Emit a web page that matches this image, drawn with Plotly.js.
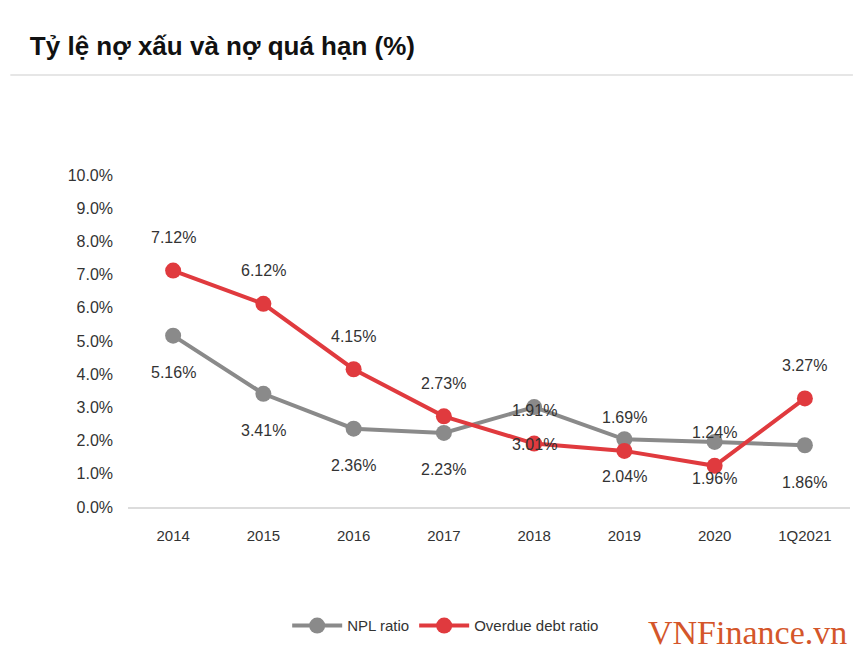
<!DOCTYPE html>
<html><head><meta charset="utf-8">
<script src="https://cdn.plot.ly/plotly-3.0.1.min.js"></script>
<style>html,body{margin:0;padding:0;background:#fff}#c{width:853px;height:650px}</style>
</head><body><div id="c"></div>
<script>
const categories = ["2014","2015","2016","2017","2018","2019","2020","1Q2021"];
const nplRatio = [5.16, 3.41, 2.36, 2.23, 3.01, 2.04, 1.96, 1.86];
const overdueRatio = [7.12, 6.12, 4.15, 2.73, 1.91, 1.69, 1.24, 3.27];
const yTicks = [0,1,2,3,4,5,6,7,8,9,10];
const yTickLabels = yTicks.map(v => v.toFixed(1) + "%");

const FONT = "'Liberation Sans', Arial, sans-serif";
const fmt = v => v.toFixed(2) + "%";

const traces = [
  {x: categories, y: nplRatio, name: "NPL ratio", type: "scatter", mode: "lines+markers",
   line: {color: "#8a8a8a", width: 4}, marker: {color: "#8a8a8a", size: 16},
   cliponaxis: false, hoverinfo: "skip"},
  {x: categories, y: overdueRatio, name: "Overdue debt ratio", type: "scatter", mode: "lines+markers",
   line: {color: "#e03a3e", width: 4}, marker: {color: "#e03a3e", size: 16},
   cliponaxis: false, hoverinfo: "skip"}
];

const labelFont = {family: FONT, size: 16, color: "#333"};
const annotations = [];
categories.forEach((c, i) => {
  // category axis position = index of the category
  annotations.push({x: i, y: overdueRatio[i], xref: "x", yref: "y", text: fmt(overdueRatio[i]),
    showarrow: false, yshift: 33, font: labelFont});
  annotations.push({x: i, y: nplRatio[i], xref: "x", yref: "y", text: fmt(nplRatio[i]),
    showarrow: false, yshift: -37, font: labelFont});
});
annotations.push({text: "VNFinance.vn", xref: "paper", yref: "paper", x: 0.999, xanchor: "right",
  y: -0.377, yanchor: "middle", showarrow: false,
  font: {family: "'Liberation Serif', 'DejaVu Serif', serif", size: 34, color: "#d4562a"}});

const layout = {
  width: 853, height: 650,
  margin: {l: 128, r: 3, t: 175, b: 143},
  paper_bgcolor: "#fff", plot_bgcolor: "#fff",
  title: {text: "<b>Tỷ lệ nợ xấu và nợ quá hạn (%)</b>", x: 0.035, xanchor: "left", y: 0.93, yanchor: "middle",
          font: {family: FONT, size: 26, color: "#111"}},
  xaxis: {type: "category", range: [-0.5, 7.5], showgrid: false, zeroline: false, showline: true,
          linecolor: "#dcdcdc", linewidth: 2, ticks: "", ticklabelstandoff: 14,
          tickfont: {family: FONT, size: 15, color: "#333"}},
  yaxis: {range: [0, 10], tickvals: yTicks, ticktext: yTickLabels, showgrid: false, zeroline: false,
          showline: false, ticks: "", ticklabelstandoff: 14,
          tickfont: {family: FONT, size: 16, color: "#333"}},
  showlegend: true,
  legend: {orientation: "h", x: 0.44, xanchor: "center", y: -0.358, yanchor: "middle",
           font: {family: FONT, size: 15, color: "#333"}, itemwidth: 50},
  shapes: [{type: "line", xref: "paper", yref: "paper", x0: -0.163, x1: 1.004, y0: 1.301, y1: 1.301,
            line: {color: "#e6e6e6", width: 2}}],
  annotations: annotations
};
Plotly.newPlot("c", traces, layout, {displayModeBar: false, staticPlot: true});
</script></body></html>
